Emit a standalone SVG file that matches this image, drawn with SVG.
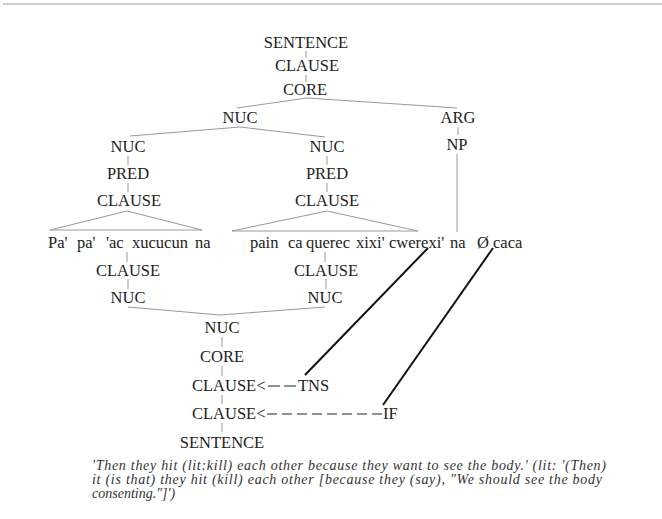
<svg xmlns="http://www.w3.org/2000/svg" width="662" height="519" viewBox="0 0 662 519" font-family="Liberation Serif, Times New Roman, serif">
<style>
.t{font-size:16.5px;fill:#222;text-anchor:middle}
.w{font-size:16.5px;fill:#222}
.c{font-size:14px;font-style:italic;fill:#333}
.l{stroke:#999;stroke-width:1;fill:none}
.k{stroke:#111;stroke-width:2;fill:none}
.d{stroke:#222;stroke-width:1.2;fill:none}
</style>
<rect x="0" y="0" width="662" height="519" fill="#fff"/>
<line x1="3" y1="4" x2="662" y2="4" stroke="#ccc" stroke-width="2"/>
<g id="connectors">
<line class="l" x1="306" y1="51" x2="306" y2="58"/>
<line class="l" x1="306" y1="75" x2="306" y2="82"/>
<polyline class="l" points="237,108 307,98 457,108"/>
<line class="l" x1="458" y1="127" x2="458" y2="135"/>
<polyline class="l" points="130,136 240,127 325,137"/>
<line class="l" x1="128" y1="156" x2="128" y2="165"/>
<line class="l" x1="128" y1="183" x2="128" y2="192"/>
<line class="l" x1="327" y1="156" x2="327" y2="165"/>
<line class="l" x1="327" y1="183" x2="327" y2="192"/>
<polygon class="l" points="127,211 50,230 202,230"/>
<polygon class="l" points="327,211 232,231 418,231"/>
<line class="l" x1="457" y1="154" x2="457" y2="232"/>
<line class="l" x1="127" y1="252" x2="127" y2="262"/>
<line class="l" x1="325" y1="252" x2="325" y2="262"/>
<line class="l" x1="128" y1="279" x2="128" y2="289"/>
<line class="l" x1="326" y1="279" x2="326" y2="289"/>
<polyline class="l" points="128,307 220,315 325,307"/>
<line class="l" x1="222" y1="337" x2="222" y2="347"/>
<line class="l" x1="222" y1="366" x2="222" y2="376"/>
<line class="l" x1="222" y1="395" x2="222" y2="404"/>
<line class="l" x1="222" y1="423" x2="222" y2="432"/>
<line class="k" x1="428" y1="248" x2="305" y2="375"/>
<line class="k" x1="493" y1="248" x2="383" y2="405"/>
<line class="d" x1="268" y1="386" x2="296" y2="386" stroke-dasharray="12 4"/>
<line class="d" x1="267" y1="414" x2="382" y2="414" stroke-dasharray="10 5"/>
</g>
<g id="sentence-top"><text class="t" x="306" y="48">SENTENCE</text></g>
<g id="clause-top"><text class="t" x="307" y="71">CLAUSE</text></g>
<g id="core-top"><text class="t" x="305" y="95">CORE</text></g>
<g id="nuc-top"><text class="t" x="240" y="123">NUC</text></g>
<g id="arg"><text class="t" x="458" y="123">ARG</text></g>
<g id="np"><text class="t" x="457" y="150">NP</text></g>
<g id="nuc-left"><text class="t" x="128" y="152">NUC</text></g>
<g id="pred-left"><text class="t" x="128" y="179">PRED</text></g>
<g id="clause-left"><text class="t" x="129" y="206">CLAUSE</text></g>
<g id="nuc-right"><text class="t" x="327" y="152">NUC</text></g>
<g id="pred-right"><text class="t" x="327" y="179">PRED</text></g>
<g id="clause-right"><text class="t" x="327" y="206">CLAUSE</text></g>
<g id="words-left"><text class="w" y="248"><tspan x="48">Pa'</tspan><tspan x="77">pa'</tspan><tspan x="106">'ac</tspan><tspan x="132">xucucun</tspan><tspan x="195">na</tspan></text></g>
<g id="words-right"><text class="w" y="248"><tspan x="250">pain</tspan><tspan x="288">ca</tspan><tspan x="306">querec</tspan><tspan x="356">xixi'</tspan><tspan x="389">cwerexi'</tspan><tspan x="450">na</tspan><tspan x="477">Ø</tspan><tspan x="493">caca</tspan></text></g>
<g id="clause-l2"><text class="t" x="128" y="276">CLAUSE</text></g>
<g id="nuc-l2"><text class="t" x="128" y="303">NUC</text></g>
<g id="clause-r2"><text class="t" x="326" y="276">CLAUSE</text></g>
<g id="nuc-r2"><text class="t" x="325" y="303">NUC</text></g>
<g id="nuc-bottom"><text class="t" x="222" y="333">NUC</text></g>
<g id="core-bottom"><text class="t" x="222" y="362">CORE</text></g>
<g id="clause-tns"><text class="w" x="192" y="391">CLAUSE&lt;</text></g>
<g id="tns"><text class="w" x="298" y="391">TNS</text></g>
<g id="clause-if"><text class="w" x="192" y="419">CLAUSE&lt;</text></g>
<g id="if"><text class="w" x="383" y="419">IF</text></g>
<g id="sentence-bottom"><text class="t" x="222" y="448">SENTENCE</text></g>
<g id="caption">
<text class="c" x="92" y="470" textLength="514" lengthAdjust="spacing">'Then they hit (lit:kill) each other because they want to see the body.' (lit: '(Then)</text>
<text class="c" x="92" y="484" textLength="510" lengthAdjust="spacing">it (is that) they hit (kill) each other [because they (say), "We should see the body</text>
<text class="c" x="92" y="498">consenting."]')</text>
</g>
</svg>
